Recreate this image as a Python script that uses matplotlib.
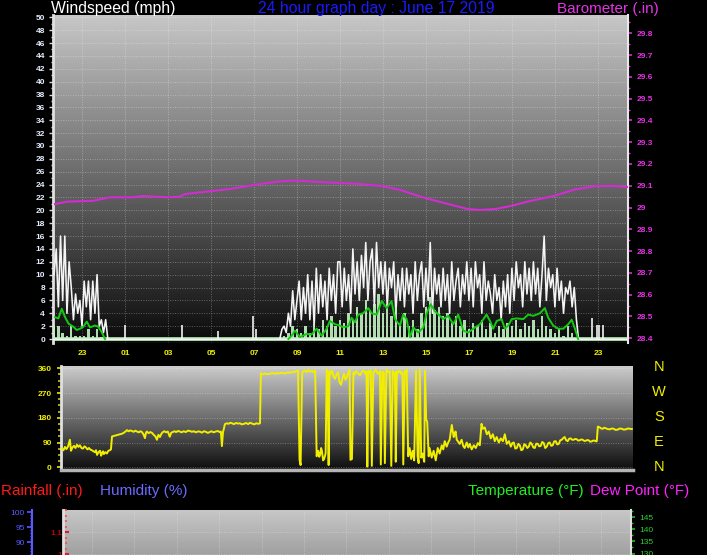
import numpy as np
import matplotlib
matplotlib.use("Agg")
import matplotlib.pyplot as plt
from matplotlib.ticker import MultipleLocator

plt.rcParams["font.family"] = ["Liberation Sans", "DejaVu Sans"]

W, H = 707, 555

# hours counted from midnight of 16 June (24 = 00:00 on the 17th)
t_start, t_end = 21.65, 48.4
hour_ticks = [23, 25, 27, 29, 31, 33, 35, 37, 39, 41, 43, 45, 47]
hour_labels = ["23", "01", "03", "05", "07", "09", "11", "13", "15", "17", "19", "21", "23"]

# barometer (.in)
baro_hours = [21.74, 22.30, 23.51, 24.30, 25.37, 25.84, 26.95, 27.56, 27.79, 28.81,
              29.88, 30.35, 31.28, 32.21, 32.95, 34.07, 34.95, 35.93, 36.95, 37.79,
              38.95, 40.12, 40.95, 41.51, 42.21, 42.95, 43.84, 44.95, 45.93, 46.95,
              47.79, 48.40]
baro_inhg = [29.016, 29.027, 29.031, 29.047, 29.047, 29.053, 29.047, 29.050, 29.062, 29.073,
             29.085, 29.093, 29.108, 29.120, 29.124, 29.117, 29.113, 29.108, 29.099, 29.081,
             29.044, 29.014, 28.993, 28.989, 28.993, 29.007, 29.030, 29.053, 29.083, 29.099,
             29.099, 29.094]

# gusts (mph), one reading every 6 minutes
gust_start_1 = 21.7
gust_mph_1 = [10, 14, 5, 16, 6, 16, 4, 12, 8, 3,
              7, 4, 6, 2, 9, 5, 9, 3, 9, 4,
              10, 2, 3, 1, 3, 0]
gust_start_2 = 32.2
gust_mph_2 = [0, 1.5, 2, 1, 4, 2, 7.5, 3,
              6, 9, 3, 8, 4, 10, 3, 9, 2, 11,
              4, 10, 5, 9, 3, 11, 6, 10, 4, 12,
              12, 5, 11, 6, 10, 4, 14, 7, 12, 6,
              13, 8, 15, 6, 12, 14, 5, 15, 8, 12,
              7, 12, 5, 11, 8, 12, 4, 10, 6, 11,
              5, 11, 7, 10, 4, 12, 6, 10, 12, 5,
              11, 6, 15, 4, 11, 7, 10, 5, 11, 6,
              10, 4, 12, 6, 9, 11, 5, 10, 7, 12,
              6, 11, 5, 12, 8, 10, 4, 12, 6, 9,
              7, 4, 10, 6, 8, 3, 9, 5, 10, 4,
              11, 6, 12, 8, 10, 5, 12, 7, 11, 6,
              12, 7, 11, 5, 10, 16, 6, 11, 8, 10,
              5, 11, 6, 9, 4, 8, 7, 9, 5, 8,
              3, 0]
calm_gust_hours = [25.0, 27.65, 29.33, 30.95, 31.1, 46.71, 46.94, 47.05, 47.25]
calm_gust_mph = [2.2, 2.2, 1.2, 3.5, 1.5, 3.3, 2.2, 2.2, 2.2]

# average wind (mph), one reading every 12 minutes
avg_start_1 = 21.7
avg_mph_1 = [2, 2, 1, 0.5, 2, 0.5, 0.5, 0.5, 1.5, 0.5, 1.5, 0.3, 0]
avg_start_2 = 32.2
avg_mph_2 = [0, 0.5, 1, 2, 1.5, 1, 2, 1, 2.5, 1.5,
             3, 2, 3.5, 2, 3, 2.5, 4, 3, 5, 4,
             6, 4.5, 5.5, 7, 4, 5.5, 3.5, 5, 2.5, 4,
             2, 3, 1.5, 4, 5, 6.5, 4.5, 5, 3.5, 4,
             2.5, 3.5, 2, 3, 1.5, 2.5, 2, 3, 1.5, 2.5,
             1, 2, 1.5, 2.5, 2, 3, 1.5, 2.5, 2, 3,
             1.5, 3.5, 2, 1.5, 1, 1.5, 0.5, 2, 1, 0]

# smoothed average (hour, mph)
trend_1 = [(21.74, 3.4), (21.9, 3.2), (21.98, 4.0), (22.06, 4.7), (22.21, 3.4), (22.37, 2.4),
           (22.6, 1.9), (22.75, 1.4), (22.91, 1.6), (23.06, 1.9), (23.22, 2.7), (23.37, 1.8),
           (23.6, 2.1), (23.76, 1.9), (23.91, 1.1), (24.07, 0.0)]
trend_2 = [(32.6, 0.0), (32.75, 0.5), (32.91, 1.3), (33.14, 0.3), (33.45, 0.8), (33.68, 0.7),
           (33.92, 1.6), (34.15, 0.5), (34.38, 1.6), (34.53, 2.8), (34.77, 2.3), (35.0, 2.1),
           (35.15, 1.8), (35.39, 2.0), (35.54, 3.3), (35.70, 2.6), (35.85, 3.8), (36.08, 4.0),
           (36.32, 4.8), (36.47, 4.0), (36.71, 3.8), (36.94, 5.9), (37.17, 4.8), (37.40, 5.9),
           (37.56, 3.1), (37.79, 2.1), (37.94, 3.8), (38.10, 3.1), (38.26, 0.3), (38.41, 1.8),
           (38.64, 1.0), (38.88, 1.8), (39.03, 4.0), (39.22, 5.4), (39.42, 4.3), (39.65, 3.6),
           (39.81, 3.1), (40.04, 3.6), (40.27, 2.3), (40.50, 3.8), (40.74, 1.3), (40.97, 1.0),
           (41.20, 1.6), (41.51, 2.3), (41.82, 3.8), (41.98, 2.8), (42.13, 1.6), (42.29, 2.8),
           (42.52, 3.1), (42.67, 1.6), (42.83, 2.1), (42.99, 3.1), (43.22, 3.2), (43.53, 3.1),
           (43.76, 3.8), (43.99, 3.6), (44.30, 4.0), (44.53, 4.8), (44.69, 3.3), (44.92, 2.1),
           (45.15, 1.6), (45.39, 1.6), (45.62, 2.3), (45.78, 3.0), (45.93, 1.6), (46.08, 0.0)]

# wind direction (hour, degrees)
direction = [
    (21.71, 69), (21.78, 62), (21.85, 74), (21.92, 66), (21.99, 75), (22.08, 100), (22.13, 60),
    (22.20, 72), (22.27, 78), (22.34, 70), (22.41, 82), (22.48, 74), (22.55, 80), (22.62, 70),
    (22.69, 68), (22.76, 76), (22.83, 72), (22.90, 65), (22.97, 70), (23.04, 64), (23.11, 62),
    (23.18, 58), (23.25, 55), (23.30, 62), (23.35, 45), (23.42, 55), (23.49, 60), (23.54, 42),
    (23.58, 50), (23.63, 58), (23.67, 48), (23.74, 55), (23.81, 50), (23.88, 60), (23.95, 62),
    (24.00, 65), (24.05, 112), (24.14, 114), (24.23, 116), (24.32, 118), (24.42, 120),
    (24.52, 122), (24.61, 126), (24.68, 130), (24.75, 135), (24.82, 131), (24.90, 134),
    (24.98, 132), (25.06, 129), (25.14, 133), (25.22, 130), (25.30, 127), (25.38, 131),
    (25.45, 128), (25.52, 120), (25.59, 106), (25.64, 126), (25.68, 130), (25.76, 124),
    (25.84, 128), (25.92, 125), (26.0, 118), (26.08, 112), (26.15, 100), (26.22, 118),
    (26.29, 110), (26.36, 122), (26.43, 128), (26.50, 131), (26.58, 127), (26.66, 130),
    (26.75, 111), (26.82, 126), (26.89, 128), (26.97, 131), (27.05, 128), (27.13, 132),
    (27.22, 130), (27.30, 127), (27.40, 131), (27.50, 128), (27.60, 133), (27.69, 132),
    (27.78, 129), (27.88, 131), (27.97, 127), (28.06, 130), (28.15, 130), (28.25, 126),
    (28.35, 131), (28.44, 129), (28.53, 125), (28.62, 128), (28.70, 131), (28.80, 127),
    (28.90, 130), (29.0, 132), (29.08, 128), (29.14, 130), (29.19, 77), (29.24, 128),
    (29.28, 140), (29.33, 157), (29.42, 160), (29.50, 158), (29.58, 162), (29.66, 160),
    (29.75, 157), (29.85, 161), (29.94, 159), (30.03, 160), (30.12, 156), (30.22, 158),
    (30.32, 161), (30.42, 157), (30.50, 162), (30.60, 159), (30.70, 156), (30.80, 160),
    (30.90, 158), (30.97, 160),
    (31.01, 342), (31.10, 338), (31.20, 341), (31.30, 339), (31.44, 340), (31.55, 343),
    (31.66, 340), (31.78, 342), (31.90, 342), (32.02, 344), (32.14, 341), (32.26, 345),
    (32.37, 344), (32.48, 347), (32.58, 346), (32.65, 350), (32.75, 352),
    (32.82, 27), (32.87, 8), (32.94, 342), (33.00, 350), (33.08, 352), (33.15, 346),
    (33.23, 354), (33.31, 348), (33.40, 351), (33.48, 346), (33.55, 352), (33.62, 40),
    (33.69, 60), (33.74, 38), (33.78, 45), (33.83, 70), (33.87, 58), (33.92, 25), (33.97, 30),
    (34.04, 50), (34.09, 355), (34.13, 345), (34.18, 8), (34.22, 350), (34.28, 340),
    (34.34, 352), (34.41, 330), (34.48, 322), (34.55, 338), (34.62, 345), (34.69, 310),
    (34.76, 300), (34.83, 325), (34.90, 340), (34.97, 318), (35.04, 330), (35.10, 345),
    (35.16, 355), (35.20, 27), (35.27, 30), (35.34, 345), (35.40, 338), (35.46, 350),
    (35.55, 342), (35.65, 335), (35.74, 348), (35.83, 352), (35.90, 340), (35.95, 348),
    (35.99, 2), (36.04, 350), (36.10, 345), (36.15, 352), (36.20, 5), (36.27, 345),
    (36.33, 350), (36.39, 355), (36.46, 342), (36.53, 340), (36.58, 350), (36.62, 10),
    (36.69, 348), (36.76, 345), (36.81, 15), (36.88, 355), (36.96, 346), (37.04, 350),
    (37.11, 5), (37.18, 350), (37.23, 338), (37.28, 345), (37.32, 20), (37.37, 350),
    (37.44, 344), (37.51, 352), (37.58, 340), (37.63, 345), (37.67, 10), (37.74, 350),
    (37.80, 345), (37.83, 355), (37.90, 40), (37.97, 70), (38.04, 30), (38.11, 60),
    (38.18, 25), (38.27, 352), (38.34, 40), (38.39, 15), (38.44, 355), (38.51, 35),
    (38.58, 50), (38.65, 20), (38.69, 352), (38.74, 175), (38.79, 165), (38.86, 40),
    (38.90, 70), (39.0, 35), (39.09, 60), (39.19, 25), (39.28, 70), (39.37, 50), (39.47, 80),
    (39.54, 65), (39.61, 95), (39.70, 75), (39.77, 90), (39.84, 100), (39.94, 154),
    (40.03, 110), (40.08, 125), (40.12, 130), (40.17, 100), (40.22, 95), (40.31, 85),
    (40.40, 100), (40.47, 78), (40.54, 70), (40.64, 90), (40.71, 72), (40.78, 85), (40.87, 65),
    (40.97, 80), (41.06, 70), (41.16, 88), (41.25, 80), (41.33, 158), (41.39, 140),
    (41.48, 145), (41.58, 120), (41.67, 130), (41.76, 105), (41.86, 120), (41.95, 95),
    (42.04, 110), (42.14, 90), (42.23, 105), (42.33, 95), (42.42, 120), (42.51, 85),
    (42.61, 95), (42.70, 75), (42.77, 88), (42.84, 90), (42.91, 68), (42.98, 70), (43.05, 85),
    (43.12, 80), (43.19, 62), (43.26, 65), (43.33, 84), (43.40, 80), (43.47, 70), (43.54, 75),
    (43.61, 90), (43.68, 85), (43.75, 72), (43.82, 70), (43.89, 86), (43.96, 85), (44.03, 76),
    (44.10, 78), (44.17, 92), (44.24, 88), (44.31, 70), (44.38, 75), (44.45, 88), (44.52, 90),
    (44.59, 78), (44.66, 80), (44.73, 94), (44.80, 95), (44.87, 83), (44.94, 85), (45.01, 98),
    (45.08, 100), (45.15, 106), (45.22, 110), (45.29, 98), (45.36, 95), (45.43, 104),
    (45.50, 105), (45.57, 100), (45.64, 100), (45.71, 103), (45.78, 102), (45.85, 97),
    (45.92, 98), (45.99, 101), (46.06, 100), (46.13, 96), (46.20, 96), (46.27, 99),
    (46.34, 98), (46.41, 93), (46.48, 94), (46.55, 97), (46.62, 97), (46.68, 94), (46.72, 95),
    (46.77, 148), (46.86, 145), (46.93, 141), (47.0, 140), (47.07, 144), (47.14, 142),
    (47.23, 139), (47.33, 138), (47.42, 141), (47.51, 140), (47.60, 136), (47.70, 137),
    (47.79, 141), (47.89, 140), (47.98, 137), (48.08, 138), (48.17, 141), (48.27, 140),
    (48.36, 139)]

compass = ["N", "W", "S", "E", "N"]

# axis scales of the lower strip (only its top edge is in view)
rain_ticks, rain_labels = [1.0, 1.1], ["1", "1.1"]
humidity_ticks = [85, 90, 95, 100]
temp_ticks = [130, 135, 140, 145]


def box(left, top, right, bottom):
    return [left / W, 1 - bottom / H, (right - left) / W, (bottom - top) / H]


def backdrop(ax, ylim, lo, hi):
    grad = np.linspace(lo, hi, 256).reshape(-1, 1)
    ax.imshow(grad, cmap="gray", vmin=0, vmax=1, aspect="auto", origin="lower",
              extent=[t_start, t_end, ylim[0], ylim[1]], zorder=0, interpolation="bilinear")
    ax.set_xlim(t_start, t_end)
    ax.set_ylim(*ylim)
    ax.set_axisbelow(True)


def ftext(x, y, s, **kw):
    fig.text(x / W, 1 - y / H, s, **kw)


grid_kw = dict(color="white", alpha=0.3, linestyle=(0, (1, 1.5)), linewidth=0.7)
tick_font = dict(labelsize=6)

fig = plt.figure(figsize=(W / 100, H / 100), dpi=100, facecolor="black")

# ---------------- wind speed / barometer ----------------
ax1 = fig.add_axes(box(53, 15, 628, 343))
ax1.set_facecolor("black")
backdrop(ax1, (-0.62, 50.36), 0.04, 0.78)
ax1.set_yticks(range(0, 51, 2))
ax1.yaxis.set_minor_locator(MultipleLocator(1))
ax1.set_xticks(hour_ticks, hour_labels)
ax1.grid(True, **grid_kw)
ax1.tick_params(axis="y", which="major", direction="out", length=3, width=1,
                color="#d8d8d8", labelcolor="#e6eeff", pad=2.8, **tick_font)
ax1.tick_params(axis="y", which="minor", direction="out", length=1.5, width=1, color="#d8d8d8")
ax1.tick_params(axis="x", length=0, labelcolor="#f0f000", pad=5, **tick_font)
for lab in ax1.get_yticklabels() + ax1.get_xticklabels():
    lab.set_fontweight("bold")
for s in ["top", "bottom", "right"]:
    ax1.spines[s].set_visible(False)
ax1.spines["left"].set_color("#e0e0e0")
ax1.spines["left"].set_linewidth(2)

ax1.axhline(0, color="#bff0bf", lw=2.6, zorder=2)
ax1.axhline(0, color="#f2f2f2", lw=1.0, zorder=3)
g1_t = gust_start_1 + 0.1 * np.arange(len(gust_mph_1))
g2_t = gust_start_2 + 0.1 * np.arange(len(gust_mph_2))
ax1.plot(g1_t, gust_mph_1, color="#f4f4f4", lw=1.15, zorder=3)
ax1.plot(g2_t, gust_mph_2, color="#f4f4f4", lw=1.15, zorder=3)
ax1.vlines(calm_gust_hours, 0, calm_gust_mph, color="#f2f2f2", lw=1.2, zorder=3)

a1_t = avg_start_1 + 0.2 * np.arange(len(avg_mph_1))
a2_t = avg_start_2 + 0.2 * np.arange(len(avg_mph_2))
ax1.bar(a1_t, avg_mph_1, width=0.11, color="#c4f2c4", alpha=0.9, zorder=4)
ax1.bar(a2_t, avg_mph_2, width=0.11, color="#c4f2c4", alpha=0.9, zorder=4)

for tr in (trend_1, trend_2):
    th, tv = np.array(tr).T
    ax1.plot(th, tv, color="#14c814", lw=1.4, zorder=5)

ax1b = ax1.twinx()
ax1b.set_ylim(28.378, 29.884)
baro_ticks = np.round(np.arange(28.4, 29.85, 0.1), 1)
ax1b.set_yticks(baro_ticks, [f"{v:g}" for v in baro_ticks])
ax1b.yaxis.set_minor_locator(MultipleLocator(0.05))
ax1b.tick_params(axis="y", which="major", direction="out", length=3, width=1.2,
                 color="#d030d0", labelcolor="#e632e6", pad=3, **tick_font)
ax1b.tick_params(axis="y", which="minor", direction="out", length=1.5, width=1, color="#d030d0")
for lab in ax1b.get_yticklabels():
    lab.set_fontweight("bold")
for s in ["top", "bottom", "left"]:
    ax1b.spines[s].set_visible(False)
ax1b.spines["right"].set_color("#e8e8e8")
ax1b.spines["right"].set_linewidth(1.5)
ax1b.plot(baro_hours, baro_inhg, color="#d22cd2", lw=1.5, zorder=6)

# ---------------- wind direction ----------------
ax2 = fig.add_axes(box(60.7, 366, 632.7, 469.5))
ax2.set_facecolor("black")
backdrop(ax2, (-8.2, 368.4), 0.05, 0.80)
ax2.set_yticks([0, 90, 180, 270, 360])
ax2.yaxis.set_minor_locator(MultipleLocator(22.5))
ax2.set_xticks([])
ax2.grid(True, axis="y", **grid_kw)
ax2.tick_params(axis="y", which="major", direction="out", length=3, width=1.2,
                color="#e8e800", labelcolor="#f0f000", pad=3.5, **tick_font)
ax2.tick_params(axis="y", which="minor", direction="out", length=2, width=1.2, color="#c8c800")
for lab in ax2.get_yticklabels():
    lab.set_fontweight("bold")
for s in ["top", "right"]:
    ax2.spines[s].set_visible(False)
ax2.spines["left"].set_color("#e0e0e0")
ax2.spines["left"].set_linewidth(2)
ax2.spines["bottom"].set_color("#b4b4b4")
ax2.spines["bottom"].set_linewidth(2.5)
dh, dd = np.array(direction).T
ax2.plot(dh, dd, color="#f2ee00", lw=1.4, zorder=3)

for i, letter in enumerate(compass):
    ftext(659, 367 + 24.9 * i, letter, color="#f0f000", fontsize=10.5,
          ha="center", va="center")

# ---------------- rain / humidity / temperature (top strip) ----------------
ax3 = fig.add_axes(box(63.3, 510, 630.7, 650))
ax3.set_facecolor("black")
backdrop(ax3, (0.564, 1.2), 0.30, 0.78)
ax3.set_xticks(hour_ticks)
ax3.tick_params(axis="x", length=0, labelbottom=False)
ax3.set_yticks(rain_ticks, rain_labels)
ax3.yaxis.set_minor_locator(MultipleLocator(0.025))
ax3.grid(True, **grid_kw)
ax3.tick_params(axis="y", which="major", direction="in", length=4, width=1.5,
                color="#e02020", labelcolor="#c00000", pad=1, **tick_font)
ax3.tick_params(axis="y", which="minor", direction="in", length=3, width=1.2, color="#f05050")
for lab in ax3.get_yticklabels():
    lab.set_fontweight("bold")
for s in ["top", "bottom", "right"]:
    ax3.spines[s].set_visible(False)
ax3.spines["left"].set_color("#e0e0e0")
ax3.spines["left"].set_linewidth(2)

ax3h = ax3.twinx()
ax3h.set_ylim(54, 100.67)
ax3h.yaxis.tick_left()
ax3h.set_yticks(humidity_ticks)
ax3h.yaxis.set_minor_locator(MultipleLocator(1))
ax3h.tick_params(axis="y", which="major", direction="out", length=3.4, width=1.2,
                 color="#5a5aff", labelcolor="#5a5aff", pad=1.4, **tick_font)
ax3h.tick_params(axis="y", which="minor", direction="out", length=1.6, width=1, color="#5a5aff")
for s in ["top", "bottom", "right"]:
    ax3h.spines[s].set_visible(False)
ax3h.spines["left"].set_visible(True)
ax3h.spines["left"].set_position(("outward", 22.8))
ax3h.spines["left"].set_color("#5a5aff")
ax3h.spines["left"].set_linewidth(1.5)

ax3t = ax3.twinx()
ax3t.set_ylim(90.1, 148)
ax3t.set_yticks(temp_ticks)
ax3t.yaxis.set_minor_locator(MultipleLocator(2.5))
ax3t.tick_params(axis="y", which="major", direction="out", length=3, width=1.2,
                 color="#20c020", labelcolor="#30d030", pad=3, **tick_font)
ax3t.tick_params(axis="y", which="minor", direction="out", length=1.6, width=1, color="#20c020")
for s in ["top", "bottom", "left"]:
    ax3t.spines[s].set_visible(False)
ax3t.spines["right"].set_color("#e0e0e0")
ax3t.spines["right"].set_linewidth(1.5)

# ---------------- header texts ----------------
ftext(51, 8.5, "Windspeed (mph)", color="white", fontsize=11.3, ha="left", va="center")
ftext(376, 8.5, "24 hour graph day : June 17 2019", color="#1a1aff", fontsize=11.3,
      ha="center", va="center")
ftext(557, 8.5, "Barometer (.in)", color="#e632e6", fontsize=11, ha="left", va="center")
ftext(1, 490.5, "Rainfall (.in)", color="#ff1a1a", fontsize=11, ha="left", va="center")
ftext(100, 490.5, "Humidity (%)", color="#6a6aff", fontsize=11, ha="left", va="center")
ftext(468, 490.5, "Temperature (°F)", color="#22ee22", fontsize=11, ha="left", va="center")
ftext(589.5, 490.5, "Dew Point (°F)", color="#ff22ff", fontsize=11, ha="left", va="center")

fig.savefig("out.png", dpi=100, facecolor="black")
